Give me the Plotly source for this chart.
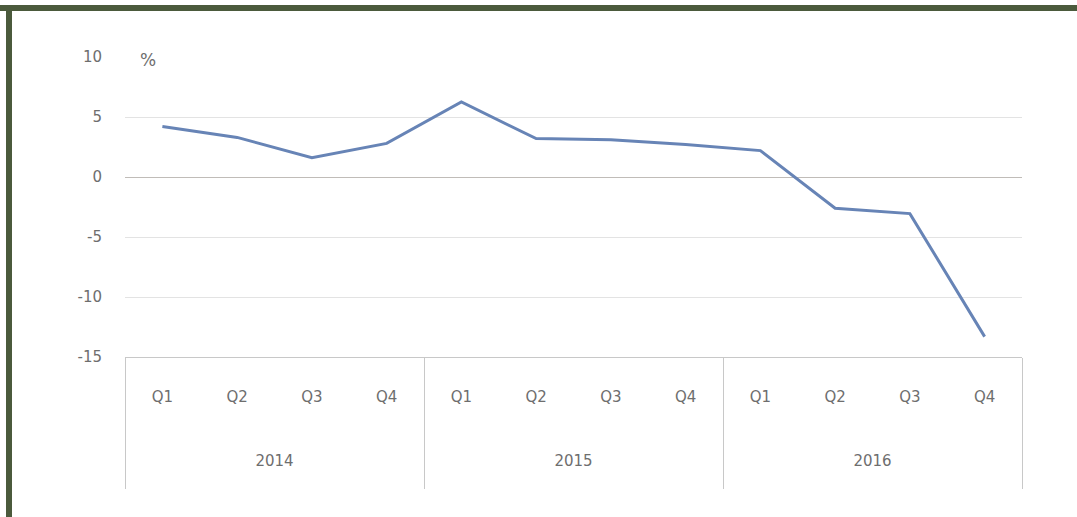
import plotly.graph_objects as go

years = ["2014", "2015", "2016"]
quarters = ["Q1", "Q2", "Q3", "Q4"]
values = [4.2, 3.3, 1.6, 2.8, 6.25, 3.2, 3.1, 2.7, 2.2, -2.6, -3.05, -13.3]
y_ticks = [-15, -10, -5, 0, 5, 10]
y_tick_labels = ["-15", "-10", "-5", "0", "5", "10"]
unit_label = "%"

n_q = len(quarters)
quarter_labels = [q for _ in years for q in quarters]
xpos = list(range(len(quarter_labels)))
year_centers = [i * n_q + (n_q - 1) / 2 for i in range(len(years))]
boundaries = [i * n_q - 0.5 for i in range(len(years) + 1)]

W, H = 1077, 517
L, R, T, B = 125, 55, 57, 160
GRAY_TXT = "#6e6e6e"
FONT = "DejaVu Sans"
FS = 15

fig = go.Figure()
fig.add_trace(go.Scatter(
    x=xpos, y=values, mode="lines",
    line=dict(color="#6784b6", width=3),
    showlegend=False, hoverinfo="skip",
))
# invisible helper trace for the year axis
fig.add_trace(go.Scatter(x=[boundaries[0], boundaries[-1]], y=[0, 0], xaxis="x2",
                         mode="lines", line=dict(width=0), showlegend=False, hoverinfo="skip"))

xr = [boundaries[0], boundaries[-1]]
fig.update_layout(
    width=W, height=H,
    margin=dict(l=L, r=R, t=T, b=B),
    plot_bgcolor="white", paper_bgcolor="white",
    font=dict(family=FONT, size=FS, color=GRAY_TXT),
    xaxis=dict(
        range=xr, tickmode="array", tickvals=xpos, ticktext=quarter_labels,
        showgrid=False, zeroline=False, showline=True, linecolor="#c8c8c8", linewidth=1,
        ticks="", ticklabelstandoff=26,
        tickfont=dict(family=FONT, size=FS, color=GRAY_TXT),
        minor=dict(tickmode="array", tickvals=boundaries, ticks="outside",
                   ticklen=131, tickcolor="#c8c8c8", tickwidth=1, showgrid=False),
    ),
    xaxis2=dict(
        range=xr, overlaying="x", anchor="y", side="bottom",
        tickmode="array", tickvals=year_centers, ticktext=years,
        showgrid=False, zeroline=False, showline=False, ticks="",
        ticklabelstandoff=93,
        tickfont=dict(family=FONT, size=FS, color=GRAY_TXT),
    ),
    yaxis=dict(
        range=[-15, 10], tickmode="array", tickvals=y_ticks, ticktext=y_tick_labels,
        showgrid=True, gridcolor="#e3e3e3", gridwidth=1,
        zeroline=True, zerolinecolor="#c0bcb8", zerolinewidth=1,
        showline=False, ticks="", ticklabelstandoff=22,
        tickfont=dict(family=FONT, size=FS, color=GRAY_TXT),
    ),
)

fig.add_annotation(text=unit_label, xref="paper", yref="paper",
                   x=(148 - L) / (W - L - R), y=(H - B - 60) / (H - T - B),
                   showarrow=False, xanchor="center", yanchor="middle",
                   font=dict(family=FONT, size=17, color=GRAY_TXT))

# dark green frame (top and left edges)
pw, ph = W - L - R, H - T - B
def px(v): return (v - L) / pw
def py(v): return (H - B - v) / ph
fig.add_shape(type="rect", xref="paper", yref="paper",
              x0=px(0), x1=px(W), y0=py(11), y1=py(5),
              fillcolor="#4b5a3c", line=dict(width=0), layer="above")
fig.add_shape(type="rect", xref="paper", yref="paper",
              x0=px(6), x1=px(12), y0=py(H), y1=py(5),
              fillcolor="#4b5a3c", line=dict(width=0), layer="above")

fig.write_html("out.html", config={"displayModeBar": False},
               post_script="document.body.style.margin='0';")
